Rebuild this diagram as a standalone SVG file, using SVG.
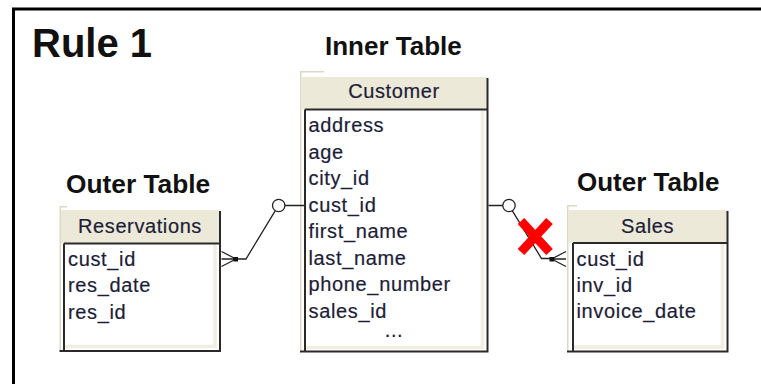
<svg xmlns="http://www.w3.org/2000/svg" width="761" height="384" viewBox="0 0 761 384">
  <style>
    .frame { fill: none; stroke: #000; stroke-width: 3; }
    .title { font-family: "Liberation Sans", Arial, sans-serif; font-weight: bold; fill: #111; }
    .field { font-family: "Liberation Sans", Arial, sans-serif; font-size: 20px; letter-spacing: 0.65px; fill: #1d1d38; stroke: #1d1d38; stroke-width: 0.2px; }
    .hdrtext { font-family: "Liberation Sans", Arial, sans-serif; font-size: 20px; letter-spacing: 0.6px; fill: #1d1d38; stroke: #1d1d38; stroke-width: 0.2px; text-anchor: middle; }
    .tab { fill: none; stroke: #dcd8c6; stroke-width: 1.5; }
    .hdr { fill: #ece9d8; }
    .body { fill: #fff; }
    .edge { fill: none; stroke: #2a2a2a; stroke-width: 2; }
    .inner { fill: none; stroke: #f0eee2; stroke-width: 3.5; }
    .conn { fill: none; stroke: #222; stroke-width: 1.3; }
    .ring { fill: #fff; stroke: #222; stroke-width: 1.3; }
    .dot { fill: #111; }
    .cross { stroke: #ff0000; stroke-width: 9; stroke-linecap: butt; }
  </style>

  <!-- page frame, open to the right and bottom -->
  <path class="frame" d="M13.5 384 V9 H761"/>

  <!-- headings -->
  <g id="labels">
    <text class="title" x="32" y="57" font-size="40">Rule 1</text>
    <text class="title" x="325" y="55" font-size="26">Inner Table</text>
    <text class="title" x="66" y="193" font-size="26.3">Outer Table</text>
    <text class="title" x="577" y="191" font-size="26">Outer Table</text>
  </g>

  <!-- Customer entity -->
  <g id="customer">
    <rect class="body" x="300" y="77" width="188" height="275"/>
    <path class="tab" d="M300.75 351 V71.75 H324"/>
    <rect class="hdr" x="301.5" y="77" width="186" height="32.5"/>
    <path class="inner" d="M482.5 110.5 V347.5 H306"/>
    <path class="edge" d="M305 109.5 H487.5 M305 109.5 V351.5 M487.5 78 V352.5 M300 351.5 H488.5"/>
    <text class="hdrtext" x="394" y="97.5">Customer</text>
    <text class="field" x="308.5" y="132">address</text>
    <text class="field" x="308.5" y="158.5">age</text>
    <text class="field" x="308.5" y="185">city_id</text>
    <text class="field" x="308.5" y="211.5">cust_id</text>
    <text class="field" x="308.5" y="238">first_name</text>
    <text class="field" x="308.5" y="264.5">last_name</text>
    <text class="field" x="308.5" y="291">phone_number</text>
    <text class="field" x="308.5" y="317.5">sales_id</text>
    <text class="hdrtext" x="394" y="337" font-size="15" fill="#555" stroke="none">...</text>
  </g>

  <!-- Reservations entity -->
  <g id="reservations">
    <rect class="body" x="59.5" y="210" width="161" height="141"/>
    <path class="tab" d="M60.25 350 V206.75 H67"/>
    <rect class="hdr" x="61" y="210" width="159" height="33.5"/>
    <path class="inner" d="M215 244.5 V346.5 H65"/>
    <path class="edge" d="M64 243.5 H220 M64 243.5 V351 M220 211 V352 M59.5 351 H221"/>
    <text class="hdrtext" x="140" y="232.5">Reservations</text>
    <text class="field" x="68" y="266">cust_id</text>
    <text class="field" x="68" y="292">res_date</text>
    <text class="field" x="68" y="318.5">res_id</text>
  </g>

  <!-- Sales entity -->
  <g id="sales">
    <rect class="body" x="567" y="210" width="161" height="141.5"/>
    <path class="tab" d="M567.75 350.5 V205.75 H577"/>
    <rect class="hdr" x="568.5" y="210" width="159" height="33"/>
    <path class="inner" d="M722.5 244 V347 H574"/>
    <path class="edge" d="M573 243 H727.5 M573 243 V351.5 M727.5 211 V352.5 M567 351.5 H728.5"/>
    <text class="hdrtext" x="647.5" y="232.5">Sales</text>
    <text class="field" x="576.5" y="266">cust_id</text>
    <text class="field" x="576.5" y="292">inv_id</text>
    <text class="field" x="576.5" y="318">invoice_date</text>
  </g>

  <!-- relationships: optional one (ring) to many (crow's foot) -->
  <g id="connectors">
    <!-- Customer.cust_id to Reservations.cust_id -->
    <path class="conn" d="M304 205.5 H285 M275.3 210.6 L246 259 H236"/>
    <circle class="ring" cx="278.7" cy="205.5" r="6.2"/>
    <path class="conn" d="M236 259 L221.5 251.5 M236 259 H221.5 M236 259 L221.5 266.5"/>
    <rect class="dot" x="233.5" y="257" width="4.5" height="4.5"/>

    <!-- Customer.cust_id to Sales.cust_id -->
    <path class="conn" d="M488.5 205.5 H502.8 M512.4 210.8 L541.5 258.5 H551.5"/>
    <circle class="ring" cx="509" cy="205.5" r="6.2"/>
    <path class="conn" d="M551.5 259 L566 251.5 M551.5 259 H566 M551.5 259 L566 266.5"/>
    <rect class="dot" x="549.5" y="257" width="4.5" height="4.5"/>
  </g>

  <!-- red cross marking the Sales join -->
  <g id="cross-mark">
    <line class="cross" x1="521" y1="221" x2="549.5" y2="252"/>
    <line class="cross" x1="549.5" y1="221" x2="521" y2="252"/>
  </g>
</svg>
